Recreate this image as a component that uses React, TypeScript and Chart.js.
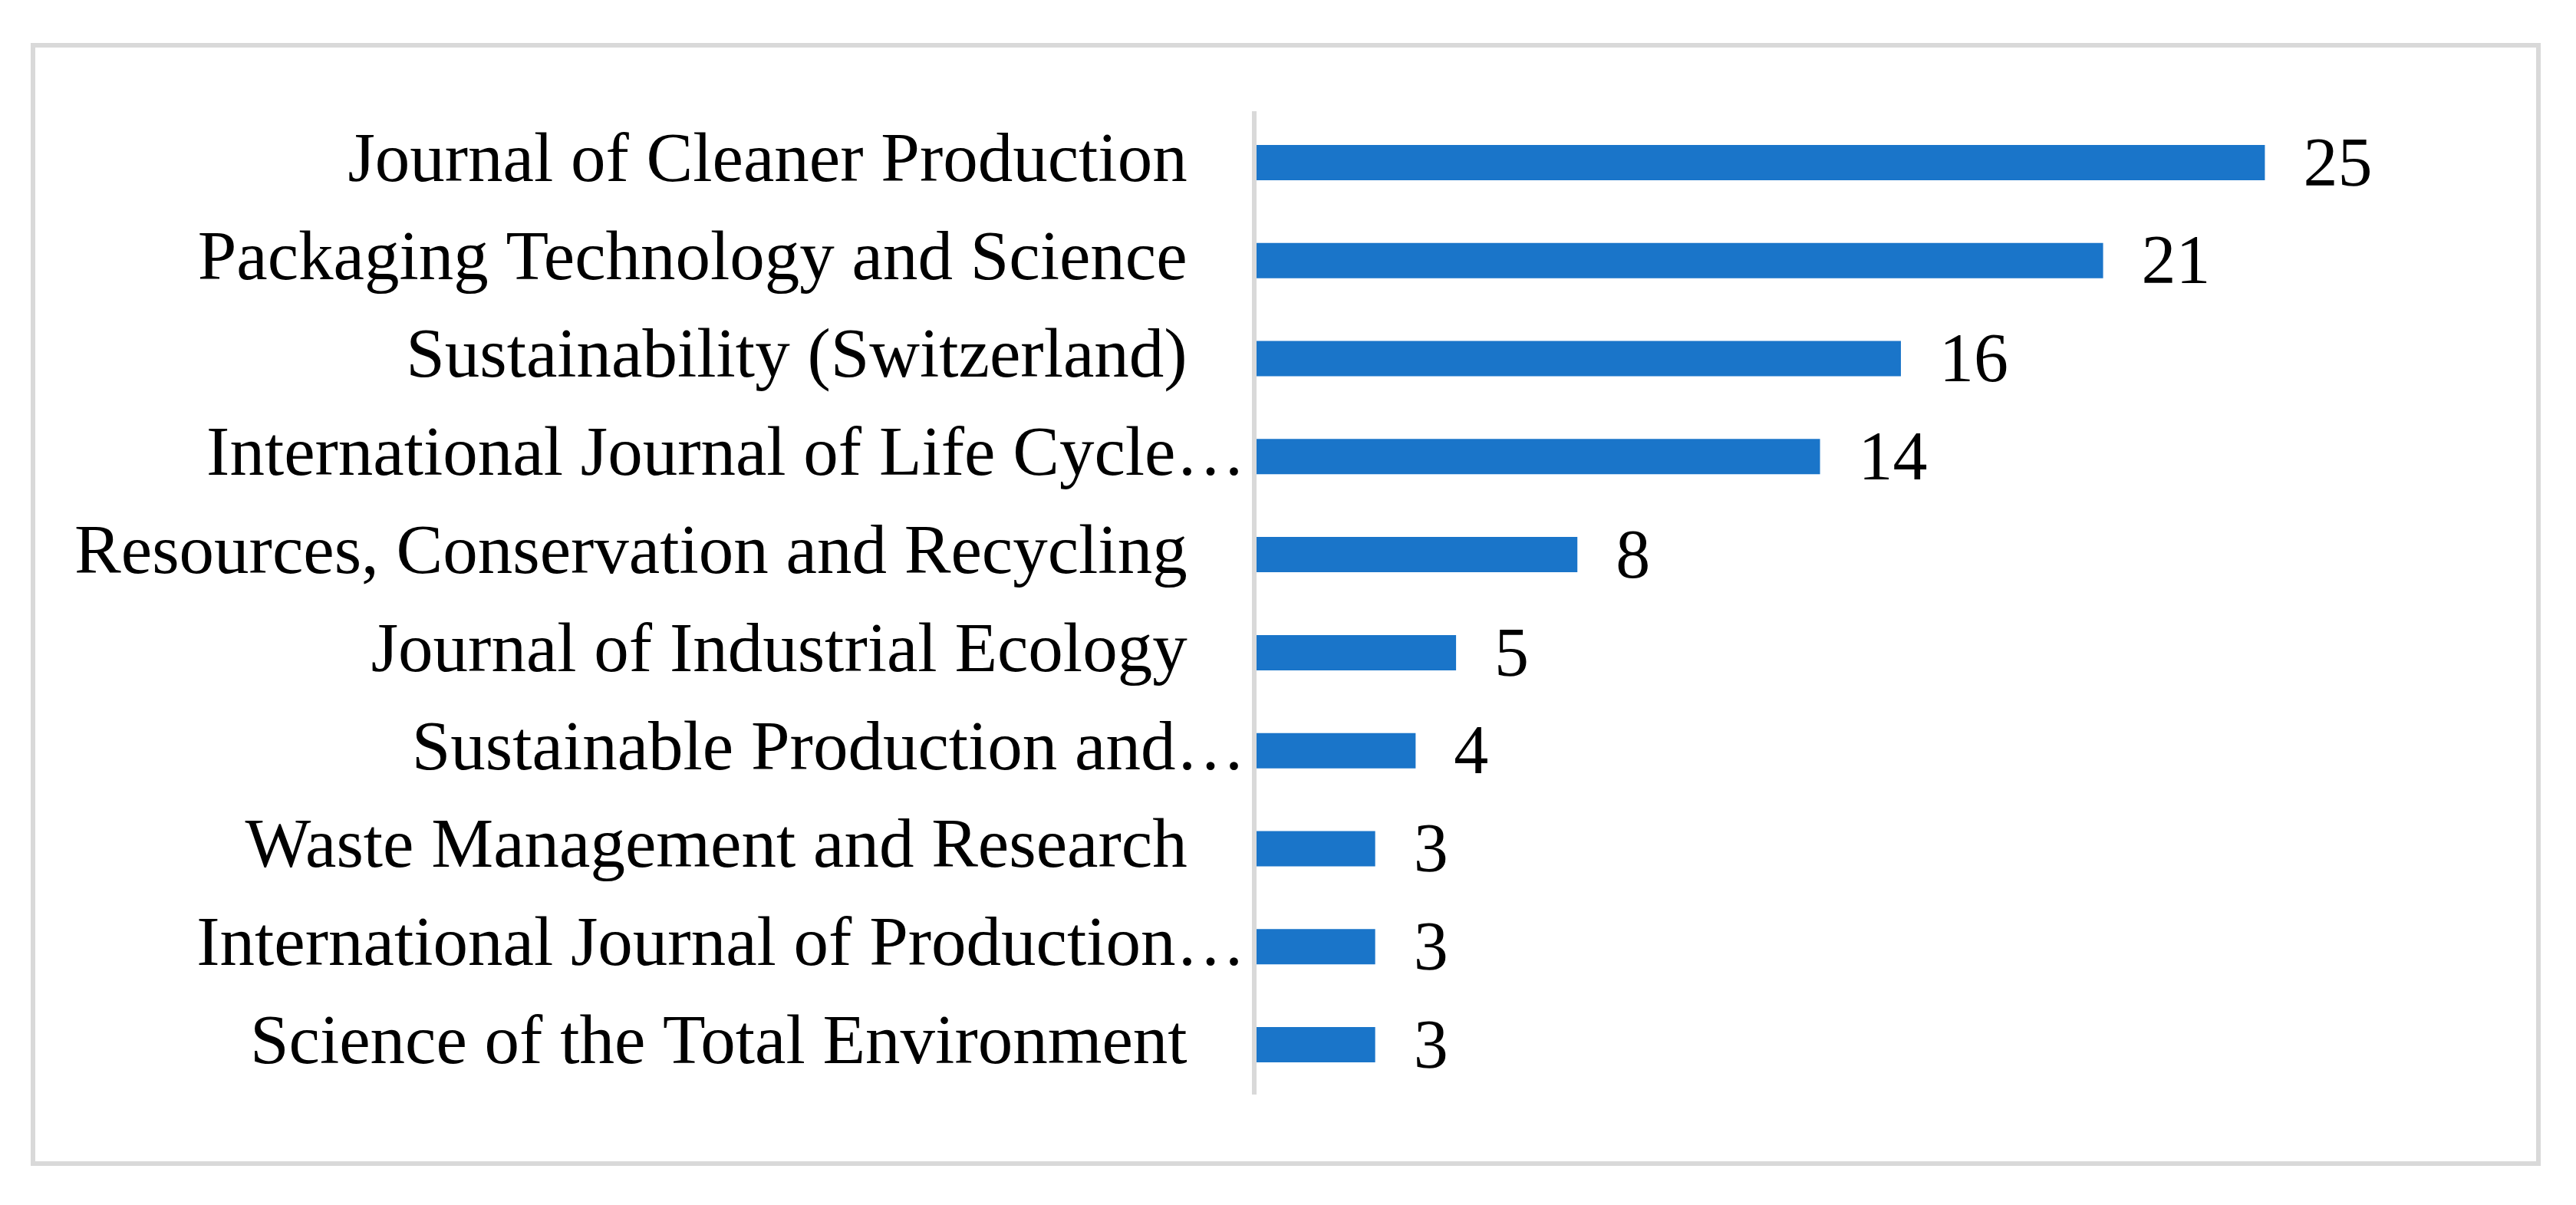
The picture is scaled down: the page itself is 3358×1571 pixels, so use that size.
import React, { useEffect, useRef } from "react";
import { Chart, registerables } from "chart.js";

Chart.register(...registerables);

const categories = [
  "Journal of Cleaner Production",
  "Packaging Technology and Science",
  "Sustainability (Switzerland)",
  "International Journal of Life Cycle…",
  "Resources, Conservation and Recycling",
  "Journal of Industrial Ecology",
  "Sustainable Production and…",
  "Waste Management and Research",
  "International Journal of Production…",
  "Science of the Total Environment",
];
const counts = [25, 21, 16, 14, 8, 5, 4, 3, 3, 3];
const axisMin = 0;
const axisMax = 30;

const FONT_FAMILY = '"Liberation Serif", "Times New Roman", serif';
const FONT_SIZE = 91;

const valueLabels = {
  id: "valueLabels",
  afterDatasetsDraw(chart: any) {
    const ctx = chart.ctx;
    const meta = chart.getDatasetMeta(0);
    ctx.save();
    ctx.font = `90px ${FONT_FAMILY}`;
    ctx.fillStyle = "#000000";
    ctx.textAlign = "left";
    ctx.textBaseline = "middle";
    meta.data.forEach((bar: any, i: number) => {
      ctx.fillText(String(counts[i]), bar.x + 50, bar.y + 6);
    });
    ctx.restore();
  },
};

export default function App() {
  const ref = useRef<HTMLCanvasElement>(null);

  useEffect(() => {
    const chart = new Chart(ref.current as HTMLCanvasElement, {
      type: "bar",
      data: {
        labels: categories,
        datasets: [
          {
            data: counts,
            backgroundColor: "#1a75c9",
            borderWidth: 0,
            barPercentage: 0.36,
            categoryPercentage: 1,
          },
        ],
      },
      options: {
        indexAxis: "y",
        responsive: false,
        animation: false,
        layout: { padding: { top: 148, bottom: 145, right: 142, left: 0 } },
        plugins: {
          legend: { display: false },
          tooltip: { enabled: false },
        },
        scales: {
          x: { display: false, min: axisMin, max: axisMax },
          y: {
            grid: { display: false, drawTicks: false },
            border: { display: true, color: "#d9d9d9", width: 6, z: 1 },
            ticks: {
              padding: 11,
              color: "#000000",
              autoSkip: false,
              font: { family: FONT_FAMILY, size: FONT_SIZE },
              callback: (_v: any, i: number) => {
                const s = categories[i];
                return s.endsWith("…") ? s : s + "   \u200A";
              },
            },
            afterFit: (scale: any) => {
              scale.width = 1634.5;
            },
          },
        },
      },
      plugins: [valueLabels],
    } as any);
    return () => chart.destroy();
  }, []);

  return (
    <div style={{ position: "fixed", left: 0, top: 0, width: 3358, height: 1571, background: "#ffffff" }}>
      <div
        style={{
          position: "absolute",
          left: 40,
          top: 56,
          width: 3272,
          height: 1464,
          border: "6px solid #d9d9d9",
          boxSizing: "border-box",
        }}
      />
      <canvas ref={ref} width={3358} height={1571} style={{ position: "absolute", left: 0, top: 0 }} />
    </div>
  );
}
